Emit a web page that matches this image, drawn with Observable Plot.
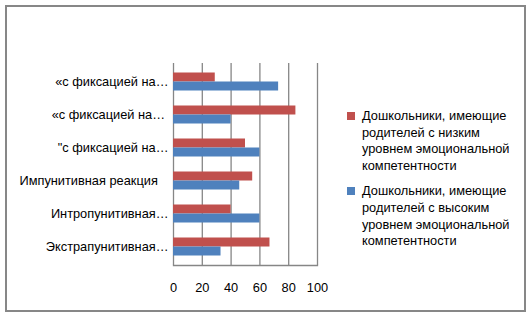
<!DOCTYPE html>
<html><head><meta charset="utf-8">
<script src="https://cdn.jsdelivr.net/npm/d3@7"></script>
<script src="https://cdn.jsdelivr.net/npm/@observablehq/plot@0.6"></script>
<style>
body{margin:0;background:#fff;font-family:"Liberation Sans",Arial,sans-serif;}
#wrap{position:relative;width:529px;height:315px;overflow:hidden;background:#fff}
#frame{position:absolute;left:5px;top:5px;width:517px;height:303px;border:2px solid #878787;}
#chart{position:absolute;left:0;top:0}
#legend{position:absolute;left:347px;top:108px;font-size:12.8px;line-height:16.7px;color:#000}
.item{display:flex;align-items:flex-start;margin-bottom:8.3px}
.sw{width:8px;height:8px;margin-top:4px;margin-right:7px;flex:none}
.txt{width:162px}
</style></head>
<body><div id="wrap"><div id="frame"></div><div id="chart"></div><div id="legend"></div></div>
<script>
const categories = [
  "«с фиксацией на…",
  "«с фиксацией на… ",
  "\"с фиксацией на…",
  "Импунитивная реакция\u00a0\u00a0\u00a0",
  "Интропунитивная…",
  "Экстрапунитивная…"
];
const lowValues = [29, 85, 50, 55, 40, 67];
const highValues = [73, 40, 60, 46, 60, 33];
const seriesNames = [
  "Дошкольники, имеющие родителей с низким уровнем эмоциональной компетентности",
  "Дошкольники, имеющие родителей с высоким уровнем эмоциональной компетентности"
];
const seriesColors = ["#C0504D", "#4F81BD"];
const xTicks = [0, 20, 40, 60, 80, 100];

const low = categories.map((c, i) => ({cat: c, value: lowValues[i]}));
const high = categories.map((c, i) => ({cat: c, value: highValues[i]}));

const chart = Plot.plot({
  width: 529,
  height: 315,
  marginLeft: 173,
  marginRight: 212,
  marginTop: 63,
  marginBottom: 50,
  style: {fontFamily: "'Liberation Sans', Arial, sans-serif", fontSize: "12.8px", color: "#000", background: "transparent"},
  x: {domain: [0, 100], label: null},
  y: {domain: categories, padding: 0.733, paddingOuter: 0.3665, align: 0.5, label: null},
  marks: [
    Plot.ruleX(xTicks, {stroke: "#868686", strokeWidth: 1.3}),
    Plot.frame({anchor: "bottom", stroke: "#868686", strokeWidth: 1.3}),
    Plot.barX(low, {y: "cat", x: "value", fill: seriesColors[0], dy: -4.5}),
    Plot.barX(high, {y: "cat", x: "value", fill: seriesColors[1], dy: 4.5}),
    Plot.axisX({ticks: xTicks, tickSize: 0, tickPadding: 17, fontSize: 12.8, fill: "#000", label: null}),
    Plot.axisY({tickSize: 0, tickPadding: 5, fontSize: 12.8, fill: "#000", label: null})
  ]
});
document.getElementById("chart").appendChild(chart);

const legend = document.getElementById("legend");
seriesNames.forEach((name, i) => {
  const item = document.createElement("div");
  item.className = "item";
  const sw = document.createElement("div");
  sw.className = "sw";
  sw.style.background = seriesColors[i];
  const t = document.createElement("div");
  t.className = "txt";
  t.textContent = name;
  item.appendChild(sw);
  item.appendChild(t);
  legend.appendChild(item);
});
</script>
</body></html>
